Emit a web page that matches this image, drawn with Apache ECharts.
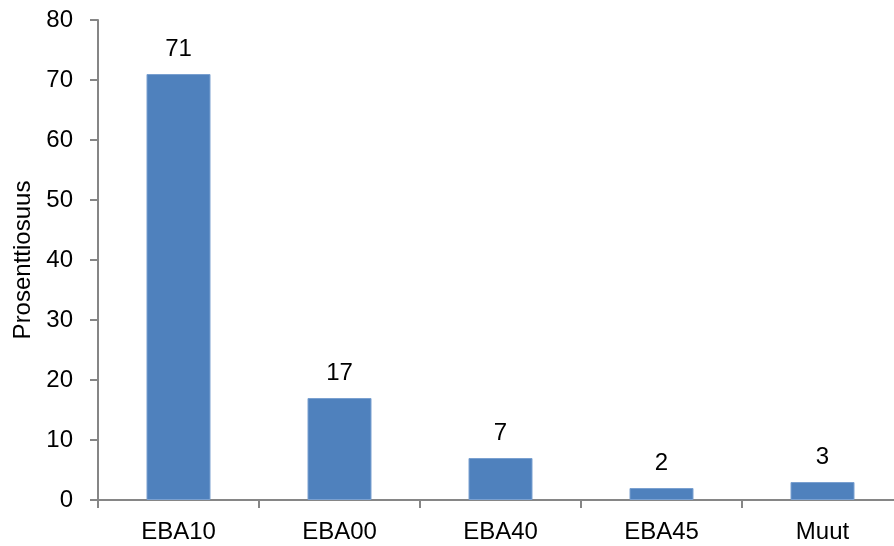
<!DOCTYPE html>
<html>
<head>
<meta charset="utf-8">
<script src="https://cdn.jsdelivr.net/npm/echarts@6/dist/echarts.min.js"></script>
<style>
  html, body { margin: 0; padding: 0; background: #fff; }
  #chart { width: 894px; height: 546px; }
</style>
</head>
<body>
<div id="chart"></div>
<script>
// Share of each category, percent
const categories = ['EBA10', 'EBA00', 'EBA40', 'EBA45', 'Muut'];
const shares = [71, 17, 7, 2, 3];
const yTicks = { min: 0, max: 80, interval: 10 };

const font = '"Liberation Sans", Arial, sans-serif';
const axisGray = '#868686';
const textSize = 24;

const chart = echarts.init(document.getElementById('chart'));
chart.setOption({
  animation: false,
  textStyle: { fontFamily: font },
  grid: { left: 98, right: -9, top: 20, bottom: 46, containLabel: false, outerBoundsMode: 'none' },
  xAxis: {
    type: 'category',
    data: categories,
    axisLine: { lineStyle: { color: axisGray, width: 2 } },
    axisTick: { show: true, length: 8, alignWithLabel: false, lineStyle: { color: axisGray, width: 2 } },
    axisLabel: { color: '#000', fontSize: textSize, fontFamily: font, margin: 20 }
  },
  yAxis: {
    type: 'value',
    min: yTicks.min,
    max: yTicks.max,
    interval: yTicks.interval,
    name: 'Prosenttiosuus',
    nameLocation: 'middle',
    nameGap: 60,
    nameTextStyle: { color: '#000', fontSize: textSize, fontFamily: font },
    axisLine: { show: true, lineStyle: { color: axisGray, width: 2 } },
    axisTick: { show: true, length: 8, lineStyle: { color: axisGray, width: 2 } },
    axisLabel: { color: '#000', fontSize: textSize, fontFamily: font, margin: 25 },
    splitLine: { show: false }
  },
  series: [{
    type: 'bar',
    data: shares,
    barWidth: 64,
    itemStyle: { color: '#4F81BD', borderColor: '#7aa0d0', borderWidth: 1 },
    label: {
      show: true,
      position: 'top',
      distance: 13,
      color: '#000',
      fontSize: textSize,
      fontFamily: font
    }
  }]
});
</script>
</body>
</html>
